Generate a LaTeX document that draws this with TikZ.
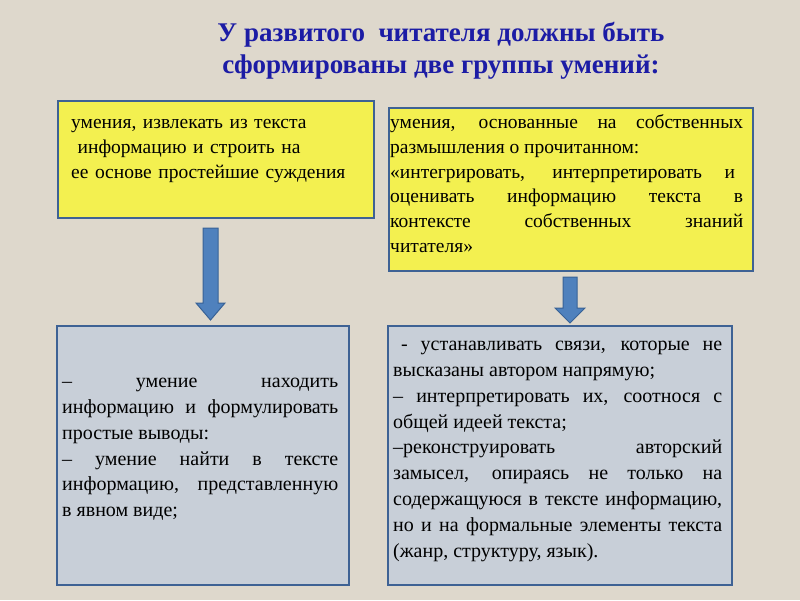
\documentclass[tikz,border=0pt]{standalone}
\usepackage{fontspec}
\setmainfont{Liberation Serif}
\definecolor{bgcol}{RGB}{222,216,204}
\definecolor{yel}{RGB}{243,240,80}
\definecolor{grayblue}{RGB}{200,207,216}
\definecolor{bordercol}{RGB}{62,98,148}
\definecolor{arrowfill}{RGB}{79,129,189}
\definecolor{arrowline}{RGB}{56,98,150}
\definecolor{titlecol}{RGB}{28,28,165}
\begin{document}
\begin{tikzpicture}[x=1pt,y=-1pt,
  box/.style={draw=bordercol, line width=2pt, anchor=north west, inner sep=0pt},
  txt/.style={anchor=north west, inner sep=0pt, align=justify, font=\fontsize{20}{25.9}\selectfont},
  txttop/.style={anchor=north west, inner sep=0pt, align=justify, font=\fontsize{19.5}{24.8}\selectfont},
  downarrow/.style={fill=arrowfill, draw=arrowline, line width=1pt, line join=miter}]
\fill[bgcol] (0,0) rectangle (800,600);
\useasboundingbox (0,0) rectangle (800,600);
% title
\node[font=\bfseries\fontsize{27}{32}\selectfont, text=titlecol, align=center, anchor=center] (title) at (441,51)
  {У развитого \ читателя должны быть\\ сформированы две группы умений:};
% boxes
\node[box, fill=yel, minimum width=316pt, minimum height=117pt] (b1) at (57,100) {};
\node[box, fill=yel, minimum width=364pt, minimum height=163pt] (b2) at (388,107) {};
\node[box, fill=grayblue, minimum width=292pt, minimum height=259pt] (b3) at (56,325) {};
\node[box, fill=grayblue, minimum width=344pt, minimum height=259pt] (b4) at (387,325) {};
% texts
\node[txttop, align=left, text width=300pt] (t1) at (71,111)
  {\strut умения, извлекать из текста\\ \ информацию и строить на\\ ее основе простейшие суждения};
\node[txttop, text width=353pt] (t2) at (390,111)
  {\strut умения, основанные на собственных\linebreak размышления о прочитанном:\\
   «интегрировать, интерпретировать и\hspace*{8pt}\linebreak оценивать информацию текста в\linebreak контексте собственных знаний\linebreak читателя»};
\node[txt, text width=276pt] (t3) at (62,369)
  {\strut –\hfill умение\hfill находить\linebreak информацию и формулировать\linebreak простые выводы:\\
   – умение найти в тексте\linebreak информацию, представленную\linebreak в явном виде;};
\node[txt, text width=329pt] (t4) at (393,332)
  {\strut\hspace*{8pt}- устанавливать связи, которые не\linebreak высказаны автором напрямую;\\
   – интерпретировать их, соотнося с\linebreak общей идеей текста;\\
   –реконструировать авторский\linebreak замысел, опираясь не только на\linebreak содержащуюся в тексте информацию,\linebreak но и на формальные элементы текста\linebreak (жанр, структуру, язык).};
% arrows
\draw[downarrow] (203,228) -- (218,228) -- (218,303) -- (225,303) -- (210.5,320) -- (196,303) -- (203,303) -- cycle;
\draw[downarrow] (563,277) -- (577,277) -- (577,308) -- (585,308) -- (570,323) -- (555,308) -- (563,308) -- cycle;
\end{tikzpicture}
\end{document}
